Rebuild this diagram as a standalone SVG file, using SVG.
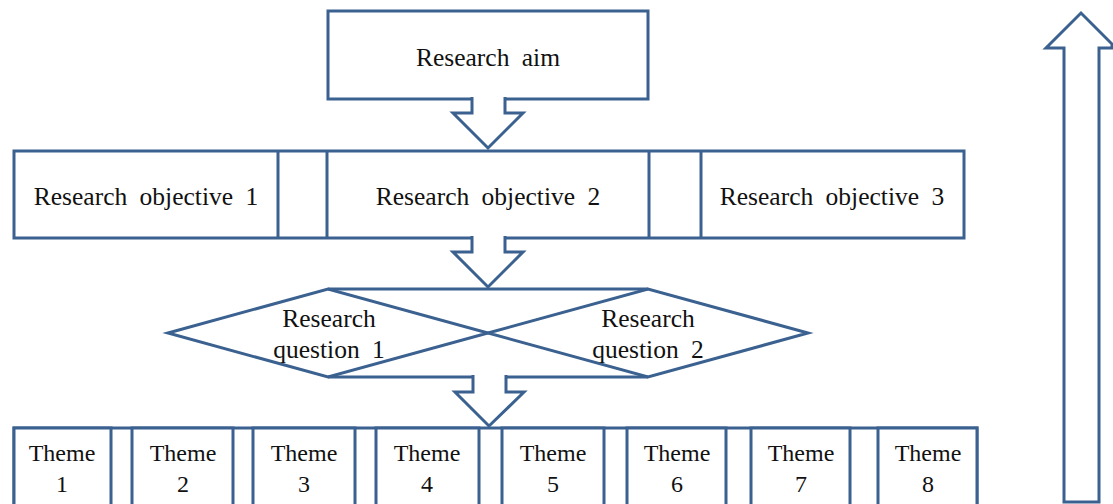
<svg xmlns="http://www.w3.org/2000/svg" width="1113" height="504" viewBox="0 0 1113 504">
  <style>
    .box { fill: #ffffff; stroke: #3b6190; stroke-width: 3; }
    .ln { fill: none; stroke: #3b6190; stroke-width: 3; }
    .arrow { fill: #ffffff; stroke: #3b6190; stroke-width: 3; stroke-linejoin: miter; }
    text { font-family: "Liberation Serif", "DejaVu Serif", serif; fill: #111111; text-anchor: middle; }
    .t { font-size: 25.5px; word-spacing: 6px; }
    .th { font-size: 24px; }
  </style>

  <rect width="1113" height="504" fill="#ffffff"/>

  <!-- aim -->
  <g id="aim">
    <rect class="box" x="328" y="11" width="320" height="88"/>
    <text class="t" x="488" y="66" font-family="Liberation Serif, serif">Research aim</text>
  </g>

  <!-- objectives row -->
  <g id="objectives">
    <rect class="box" x="14" y="151" width="950" height="87"/>
    <line class="ln" x1="278" y1="151" x2="278" y2="238"/>
    <line class="ln" x1="327" y1="151" x2="327" y2="238"/>
    <line class="ln" x1="649" y1="151" x2="649" y2="238"/>
    <line class="ln" x1="701" y1="151" x2="701" y2="238"/>
  </g>
  <g id="objective1"><text class="t" x="146" y="205">Research objective 1</text></g>
  <g id="objective2"><text class="t" x="488" y="205">Research objective 2</text></g>
  <g id="objective3"><text class="t" x="832" y="205">Research objective 3</text></g>

  <!-- research questions -->
  <g id="questions">
    <polygon class="box" points="168,333 328,289 488,333 328,377"/>
    <polygon class="box" points="488,333 648,289 808,333 648,377"/>
    <line class="ln" x1="328" y1="289" x2="648" y2="289"/>
    <line class="ln" x1="328" y1="377" x2="648" y2="377"/>
  </g>
  <g id="question1">
    <text class="t" x="329" y="327">Research</text>
    <text class="t" x="329" y="358">question 1</text>
  </g>
  <g id="question2">
    <text class="t" x="648" y="327">Research</text>
    <text class="t" x="648" y="358">question 2</text>
  </g>

  <!-- themes row -->
  <g id="themes">
    <rect class="box" x="14" y="428" width="963" height="90"/>
  </g>
  <g id="theme1"><rect class="box" x="14" y="428" width="97" height="90"/><text class="th" x="62" y="461">Theme</text><text class="th" x="62" y="492">1</text></g>
  <g id="theme2"><rect class="box" x="132" y="428" width="101" height="90"/><text class="th" x="183" y="461">Theme</text><text class="th" x="183" y="492">2</text></g>
  <g id="theme3"><rect class="box" x="253" y="428" width="102" height="90"/><text class="th" x="304" y="461">Theme</text><text class="th" x="304" y="492">3</text></g>
  <g id="theme4"><rect class="box" x="376" y="428" width="103" height="90"/><text class="th" x="427" y="461">Theme</text><text class="th" x="427" y="492">4</text></g>
  <g id="theme5"><rect class="box" x="502" y="428" width="102" height="90"/><text class="th" x="553" y="461">Theme</text><text class="th" x="553" y="492">5</text></g>
  <g id="theme6"><rect class="box" x="627" y="428" width="99" height="90"/><text class="th" x="677" y="461">Theme</text><text class="th" x="677" y="492">6</text></g>
  <g id="theme7"><rect class="box" x="751" y="428" width="99" height="90"/><text class="th" x="801" y="461">Theme</text><text class="th" x="801" y="492">7</text></g>
  <g id="theme8"><rect class="box" x="878" y="428" width="99" height="90"/><text class="th" x="928" y="461">Theme</text><text class="th" x="928" y="492">8</text></g>

  <!-- block arrows between levels, open at the shaft top -->
  <g id="connectors">
    <path class="arrow" d="M472,97 L472,113 L453,113 L488,148 L523,113 L505,113 L505,97"/>
    <path class="arrow" d="M472,236 L472,252 L453,252 L488,287 L523,252 L505,252 L505,236"/>
    <path class="arrow" d="M473,375 L473,392 L455,392 L489,426 L524,392 L506,392 L506,375"/>
    <polygon class="arrow" points="1064,502 1064,48 1046,48 1081,13 1112,44 1112,48 1099,48 1099,502"/>
  </g>
</svg>
